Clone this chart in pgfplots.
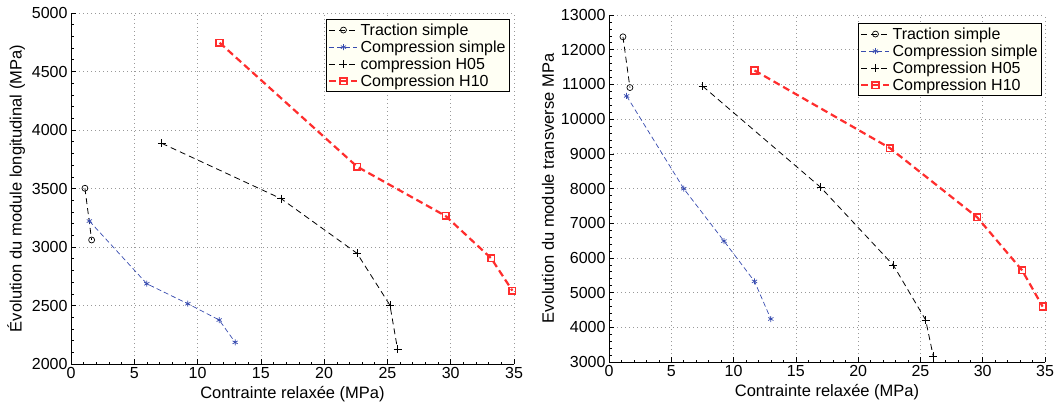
\documentclass[border=0pt]{standalone}
\usepackage{fontspec}
\setmainfont{Liberation Sans}
\usepackage{pgfplots}
\pgfplotsset{compat=1.18}
\definecolor{mblue}{RGB}{55,75,175}
\definecolor{mred}{RGB}{255,45,45}
\definecolor{legfill}{RGB}{255,255,244}
\pgfplotsset{
  mstyle/.style={
    scale only axis,
    axis x line*=bottom, axis y line*=left,
    xmin=0, xmax=35, xtick={0,5,...,35},
    scaled y ticks=false, scaled x ticks=false,
    tick align=inside, major tick length=5pt, minor tick length=2.5pt,
    minor x tick num=4, minor y tick num=4,
    grid=major, major grid style={dash pattern=on 1pt off 3pt, gray!80, line width=0.7pt},
    axis line style={line width=0.8pt},
    every tick/.style={black, line width=0.6pt},
    tick label style={font=\fontsize{16}{18}\selectfont},
    label style={font=\fontsize{16.5}{18}\selectfont},
    /pgf/number format/assume math mode=true,
    /pgf/number format/1000 sep={},
    xlabel={Contrainte relaxée (MPa)},
    x label style={at={(axis description cs:0.5,0)},anchor=north,yshift=-19pt},
    legend cell align=left,
    legend style={font=\fontsize{16}{18}\selectfont, fill=legfill, draw=black, line width=1pt,
      inner sep=2pt, row sep=0pt},
    legend image code/.code={\draw[mark repeat=2,mark phase=2,##1] plot coordinates {(0pt,0pt) (14pt,0pt) (28pt,0pt)};},
  },
  trac/.style={black, line width=0.8pt, dash pattern=on 6pt off 4pt, mark=o, mark size=3pt, mark options={solid, line width=0.7pt}},
  comps/.style={mblue, line width=0.7pt, dash pattern=on 5pt off 3pt, mark=asterisk, mark size=3pt, mark options={solid, line width=0.7pt}},
  h05/.style={black, line width=0.8pt, dash pattern=on 6pt off 4pt, mark=+, mark size=4pt, mark options={solid, line width=0.8pt}},
  h10/.style={mred, line width=2.2pt, dash pattern=on 7pt off 4pt, mark=square, mark size=3.3pt, mark options={solid, line width=1.6pt}},
}
\begin{document}
\begin{tikzpicture}
\useasboundingbox (0pt,0pt) rectangle (1064pt,-406pt);
\begin{axis}[mstyle,
  at={(71pt,-364pt)}, anchor=south west,
  width=443pt, height=351pt,
  ymin=2000, ymax=5000, ytick={2000,2500,...,5000},
  ylabel={Évolution du module longitudinal (MPa)},
  legend style={at={(1,1)}, anchor=north east, xshift=-4pt, yshift=-6pt},
]
\addplot[trac] coordinates {(1.1,3502) (1.63,3060)};
\addlegendentry{Traction simple}
\addplot[comps] coordinates {(1.45,3222) (5.99,2686) (9.23,2515) (11.71,2376) (12.97,2185)};
\addlegendentry{Compression simple}
\addplot[h05] coordinates {(7.17,3886) (16.6,3413) (22.6,2946) (25.2,2502) (25.8,2126)};
\addlegendentry{compression H05}
\addplot[h10] coordinates {(11.74,4746) (22.6,3687) (29.6,3265) (33.2,2903) (34.87,2627)};
\addlegendentry{Compression H10}
\end{axis}
\begin{axis}[mstyle,
  at={(609pt,-362pt)}, anchor=south west,
  width=436pt, height=347pt,
  ymin=3000, ymax=13000, ytick={3000,4000,...,13000},
  ylabel={Evolution du module transverse MPa},
  legend style={at={(1,1)}, anchor=north east, xshift=-3pt, yshift=-8pt},
]
\addplot[trac] coordinates {(1.12,12371) (1.68,10909)};
\addlegendentry{Traction simple}
\addplot[comps] coordinates {(1.41,10667) (6.0,7995) (9.23,6485) (11.68,5323) (12.99,4239)};
\addlegendentry{Compression simple}
\addplot[h05] coordinates {(7.52,10948) (16.99,8034) (22.83,5788) (25.42,4210) (26.03,3165)};
\addlegendentry{Compression H05}
\addplot[h10] coordinates {(11.68,11403) (22.54,9167) (29.55,7172) (33.16,5643) (34.81,4597)};
\addlegendentry{Compression H10}
\end{axis}
\end{tikzpicture}
\end{document}
